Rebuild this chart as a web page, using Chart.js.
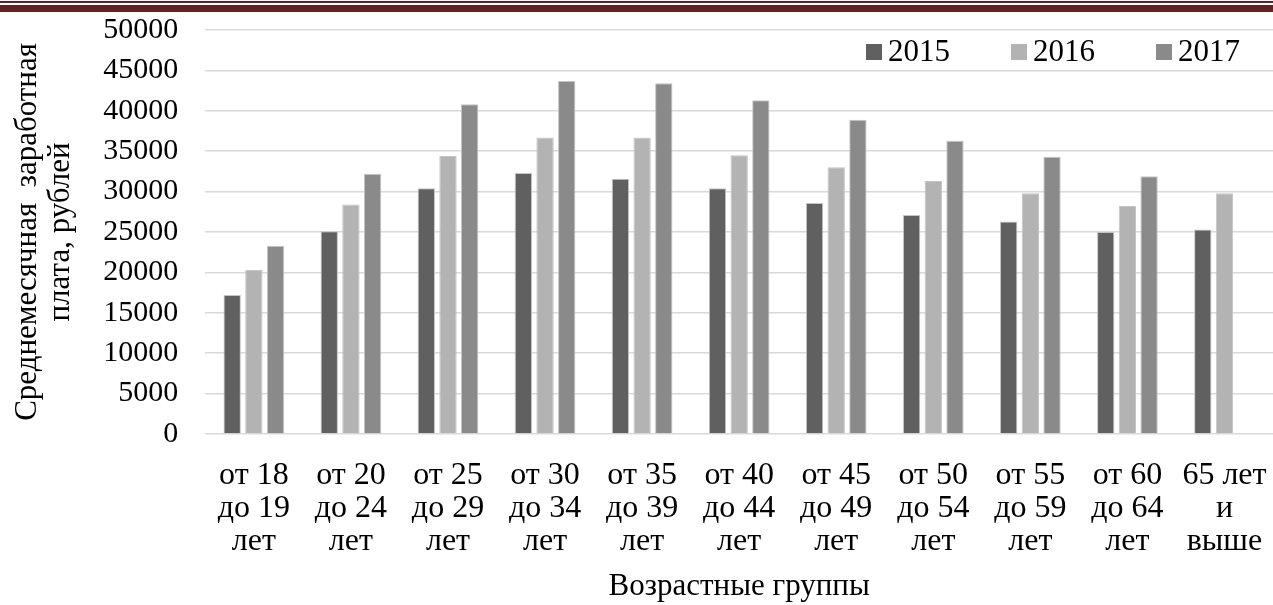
<!DOCTYPE html>
<html>
<head>
<meta charset="utf-8">
<script src="https://cdn.jsdelivr.net/npm/chart.js@4.4.1/dist/chart.umd.min.js"></script>
<style>
  html, body { margin: 0; padding: 0; background: #fff; }
  #wrap { position: relative; width: 1273px; height: 605px; }
  .rule1 { position: absolute; left: 0; top: 1px; width: 1273px; height: 2px; background: #622423; }
  .rule2 { position: absolute; left: 0; top: 5px; width: 1273px; height: 7px; background: #622423; }
</style>
</head>
<body>
<div id="wrap">
  <canvas id="salaryChart" width="1273" height="605"></canvas>
  <div class="rule1"></div>
  <div class="rule2"></div>
</div>
<script>
const ageGroups = [
    ['от 18', 'до 19', 'лет'],
    ['от 20', 'до 24', 'лет'],
    ['от 25', 'до 29', 'лет'],
    ['от 30', 'до 34', 'лет'],
    ['от 35', 'до 39', 'лет'],
    ['от 40', 'до 44', 'лет'],
    ['от 45', 'до 49', 'лет'],
    ['от 50', 'до 54', 'лет'],
    ['от 55', 'до 59', 'лет'],
    ['от 60', 'до 64', 'лет'],
    ['65 лет', 'и', 'выше']
];
const years = ['2015', '2016', '2017'];
const salary2015 = [17200, 25100, 30400, 32300, 31600, 30400, 28600, 27100, 26300, 25000, 25300];
const salary2016 = [20300, 28400, 34400, 36700, 36700, 34500, 33000, 31300, 29800, 28200, 29800];
const salary2017 = [23300, 32200, 40800, 43700, 43400, 41300, 38900, 36300, 34300, 31900, null];

const serif = "'Liberation Serif', 'Times New Roman', serif";

// legend drawn inside the plot, top right
const innerLegend = {
    id: 'innerLegend',
    afterDraw(chart) {
        const ctx = chart.ctx;
        const area = chart.chartArea;
        ctx.save();
        ctx.font = '31px ' + serif;
        ctx.textBaseline = 'middle';
        chart.data.datasets.forEach((ds, i) => {
            const x = area.right - 407 + i * 145;
            const y = area.top + 22;
            ctx.fillStyle = ds.backgroundColor;
            ctx.fillRect(x, y - 8, 16, 16);
            ctx.fillStyle = '#000';
            ctx.fillText(ds.label, x + 22, y + 1);
        });
        ctx.restore();
    }
};

const ctx = document.getElementById('salaryChart').getContext('2d');
new Chart(ctx, {
    type: 'bar',
    data: {
        labels: ageGroups,
        datasets: [
            { label: years[0], data: salary2015, backgroundColor: '#606060' },
            { label: years[1], data: salary2016, backgroundColor: '#b3b3b3' },
            { label: years[2], data: salary2017, backgroundColor: '#8a8a8a' }
        ].map(d => Object.assign(d, { borderColor: '#c4c4c4', borderWidth: 1 }))
    },
    options: {
        responsive: false,
        animation: false,
        devicePixelRatio: 1,
        categoryPercentage: 0.67,
        barPercentage: 0.8,
        layout: { padding: { top: 30, right: 0, bottom: 0, left: 11 } },
        plugins: {
            legend: { display: false },
            tooltip: { enabled: false }
        },
        scales: {
            x: {
                grid: { color: 'rgba(0,0,0,0)', drawOnChartArea: false, drawTicks: true, tickLength: 23 },
                border: { display: false },
                ticks: {
                    color: '#000',
                    font: { family: serif, size: 32, lineHeight: 1.03 },
                    maxRotation: 0,
                    autoSkip: false,
                    padding: 2
                },
                title: {
                    display: true,
                    text: 'Возрастные группы',
                    color: '#000',
                    font: { family: serif, size: 31 },
                    padding: { top: 8, bottom: 0 }
                }
            },
            y: {
                min: 0,
                max: 50000,
                grid: { color: '#d9d9d9', lineWidth: 1.5, drawTicks: true, tickLength: 25, tickColor: 'rgba(0,0,0,0)' },
                border: { display: false },
                ticks: {
                    stepSize: 5000,
                    autoSkip: false,
                    color: '#000',
                    font: { family: serif, size: 30 },
                    padding: 2,
                    callback: v => String(v)
                },
                title: {
                    display: true,
                    text: ['Среднемесячная  заработная', 'плата, рублей'],
                    color: '#000',
                    font: { family: serif, size: 31, lineHeight: 1.07 },
                    padding: { top: 0, bottom: 24 }
                }
            }
        }
    },
    plugins: [innerLegend]
});
</script>
</body>
</html>
